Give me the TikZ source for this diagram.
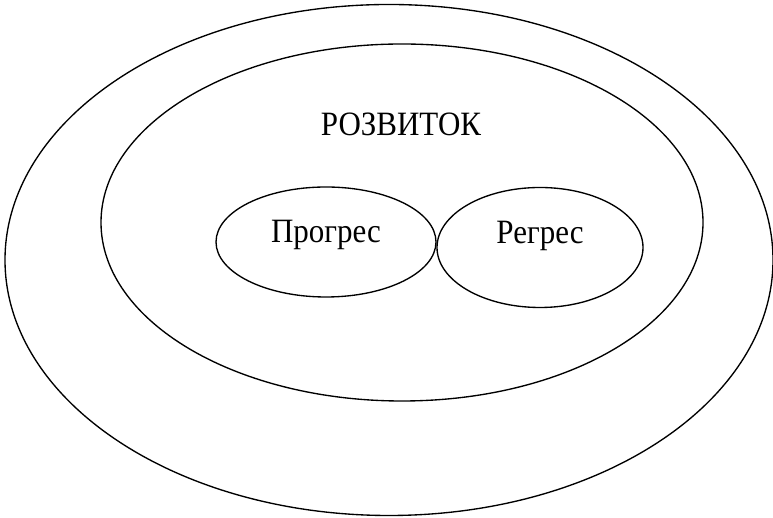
\documentclass[tikz,border=0pt]{standalone}
\usepackage{fontspec}
\setmainfont{Liberation Serif}
\usetikzlibrary{shapes.geometric}
\begin{document}
\begin{tikzpicture}[x=1pt,y=1pt,
  ring/.style={draw=black,line width=1.35pt},
  label/.style={font=\fontsize{31}{36}\selectfont,anchor=base,inner sep=0pt,yscale=1.1}]
  \useasboundingbox (0,0) rectangle (773,518);
  % nested ellipses: outer field, inner field, two sub-areas
  \draw[ring] (389,258) ellipse [x radius=384, y radius=255.5];
  \draw[ring] (402,295.5) ellipse [x radius=301, y radius=178.5];
  \draw[ring] (326,276) ellipse [x radius=110, y radius=55];
  \draw[ring] (540,270.5) ellipse [x radius=103, y radius=60];
  \node[label] (rozvytok) at (401,382) {РОЗВИТОК};
  \node[label] (progres) at (326,275) {Прогрес};
  \node[label] (regres) at (540,274) {Регрес};
\end{tikzpicture}
\end{document}
